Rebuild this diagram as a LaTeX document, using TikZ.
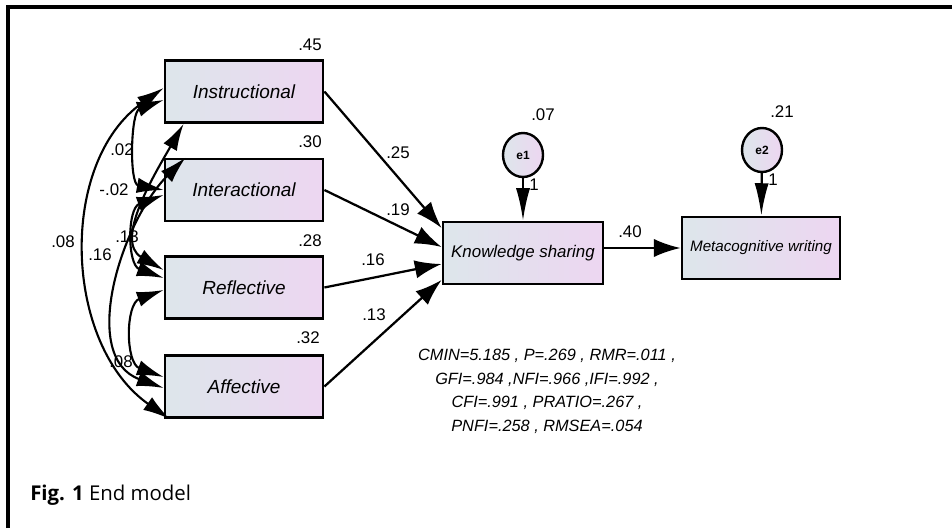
\documentclass[tikz,border=0pt]{standalone}
\usepackage{fontspec}
\setmainfont{Liberation Sans}
\newfontfamily\capfont{Open Sans}
\usetikzlibrary{arrows.meta,calc,shapes.geometric}
\definecolor{boxleft}{RGB}{221,230,235}
\definecolor{boxright}{RGB}{237,214,241}
\tikzset{
  var/.style={draw, line width=2pt, left color=boxleft, right color=boxright,
    minimum width=3.95cm, minimum height=1.55cm, inner sep=0pt,
    font=\fontsize{13.5}{16}\selectfont\itshape},
  err/.style={draw, ellipse, line width=1.7pt, left color=boxleft, right color=boxright,
    minimum width=1cm, minimum height=1.1cm, inner sep=0pt,
    font=\fontsize{8.5}{10}\selectfont\bfseries},
  reg/.style={->, line width=1.6pt},
  cov/.style={{Latex[length=19pt,width=11pt]}-{Latex[length=19pt,width=11pt]}, line width=1.5pt},
  num/.style={font=\fontsize{12}{14}\selectfont, inner sep=1pt}
}
\begin{document}
\begin{tikzpicture}[x=0.025cm, y=0.025cm, >={Latex[length=19pt,width=13pt]}]
\useasboundingbox (0,0) rectangle (952,528);
\draw[line width=2.4pt] (8,0) -- (8,521) -- (952,521);
% exogenous variables
\foreach \n/\t/\y in {ins/Instructional/436.5, int/Interactional/338, ref/Reflective/240.5, aff/Affective/141.5}
\node[var] (\n) at (244,\y) {\t};
\node[var, minimum width=4cm, font=\fontsize{12}{14}\selectfont\itshape] (ks) at (523,275) {Knowledge sharing};
\node[var, font=\fontsize{10.8}{13}\selectfont\itshape] (mw) at (761,280) {Metacognitive writing};
\node[err] (e1) at (523,373) {e1};
\node[err] (e2) at (762,378) {e2};
% paths
\foreach \n/\s in {ins/25, int/6, ref/-11, aff/-27}
\draw[reg] (\n.east) -- ($(ks.west)+(0,\s)$);
\draw[reg] (ks.east |- mw.west) -- (mw.west);
\draw[line width=1.6pt, -{Latex[length=23pt,width=10pt]}] (e1) -- (ks);
\draw[line width=1.6pt, -{Latex[length=23pt,width=10pt]}] (e2) -- (mw);
% covariances
\draw[cov] ($(ins.west)+(0,3.5)$) to[out=215,in=145] ($(aff.south west)+(6,0)$);
\draw[cov] ($(int.north west)+(22,0)$) to[out=225,in=160] ($(aff.west)+(0,-1.5)$);
\draw[cov] ($(ins.south west)+(20,0)$) to[out=240,in=150] ($(ref.west)+(0,17.5)$);
\draw[cov] ($(ins.west)+(0,-8.5)$) to[out=200,in=170] (int.west);
\draw[cov] ($(int.west)+(0,-5)$) to[out=200,in=160,looseness=1.2] ($(ref.west)+(0,9.5)$);
\draw[cov] ($(ref.west)+(0,-2.5)$) to[out=200,in=160,looseness=1.2] ($(aff.west)+(0,9.5)$);
% estimates
\foreach \n/\v/\x/\y in {rins/.45/310/483, rint/.30/310/386, rref/.28/310/287, raff/.32/308/190,
  bins/.25/398/375, bint/.19/398/318, bref/.16/373/268, baff/.13/374/213,
  bks/.40/630/296, ve1/.07/543/413, ve2/.21/782/416, w1/1/534/343, w2/1/773/348,
  c1/.02/122/378, c2/-.02/114/338, c3/.08/63/286, c4/.16/100/273, c5/.13/127/291, c6/.08/121/166}
\node[num] (\n) at (\x,\y) {\v};
\node[align=center, font=\fontsize{11.6}{16.7}\selectfont\itshape] (fit) at (547,136.5)
  {CMIN=5.185 , P=.269 , RMR=.011 ,\\ GFI=.984 ,NFI=.966 ,IFI=.992 ,\\ CFI=.991 , PRATIO=.267 ,\\ PNFI=.258 , RMSEA=.054};
\node[anchor=west, font=\capfont\fontsize{14.5}{16}\selectfont, inner sep=0pt] (cap) at (30,33) {\textbf{Fig. 1} End model};
\end{tikzpicture}
\end{document}
